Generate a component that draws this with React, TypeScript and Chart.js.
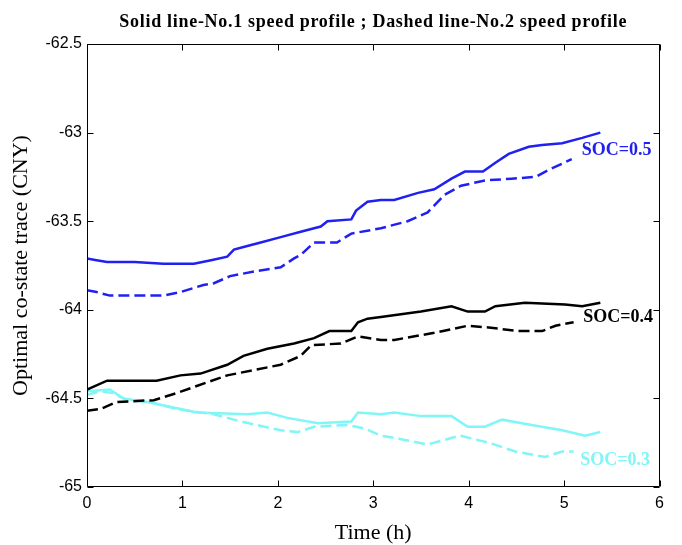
import React, { useEffect, useRef } from "react";
import { Chart, registerables } from "chart.js";

Chart.register(...registerables);

// ---- text ----
const titleText = "Solid line-No.1 speed profile ; Dashed line-No.2 speed profile";
const xTitle = "Time (h)";
const yTitle = "Optimal co-state trace (CNY)";

// ---- ticks ----
const xTicks = [0, 1, 2, 3, 4, 5, 6];
const yTicks = [-65, -64.5, -64, -63.5, -63, -62.5];

// ---- series: SOC=0.5 ----
const soc05No1T = [0, 0.1, 0.21, 0.5, 0.8, 1.12, 1.3, 1.47, 1.54, 1.68, 1.82, 2.03, 2.24, 2.38, 2.45, 2.52, 2.77, 2.82, 2.94, 3.08, 3.22, 3.47, 3.64, 3.82, 3.96, 4.15, 4.28, 4.42, 4.63, 4.77, 4.98, 5.19, 5.38];
const soc05No1V = [-63.71, -63.72, -63.73, -63.73, -63.74, -63.74, -63.72, -63.7, -63.66, -63.64, -63.62, -63.59, -63.56, -63.54, -63.53, -63.5, -63.49, -63.44, -63.39, -63.38, -63.38, -63.34, -63.32, -63.26, -63.22, -63.22, -63.17, -63.12, -63.08, -63.07, -63.06, -63.03, -63.0];
const soc05No2T = [0, 0.1, 0.24, 0.45, 0.8, 0.98, 1.22, 1.33, 1.5, 1.79, 2.03, 2.17, 2.24, 2.38, 2.62, 2.77, 3.08, 3.36, 3.57, 3.75, 3.92, 4.17, 4.45, 4.7, 4.84, 5.08];
const soc05No2V = [-63.89, -63.9, -63.92, -63.92, -63.92, -63.9, -63.86, -63.85, -63.81, -63.78, -63.76, -63.71, -63.69, -63.62, -63.62, -63.57, -63.54, -63.5, -63.45, -63.35, -63.3, -63.27, -63.26, -63.25, -63.21, -63.15];

// ---- series: SOC=0.4 ----
const soc04No1T = [0, 0.21, 0.5, 0.73, 0.98, 1.19, 1.47, 1.64, 1.89, 2.17, 2.38, 2.54, 2.77, 2.84, 2.94, 3.08, 3.5, 3.82, 3.99, 4.17, 4.28, 4.59, 5.01, 5.19, 5.38];
const soc04No1V = [-64.45, -64.4, -64.4, -64.4, -64.37, -64.36, -64.31, -64.26, -64.22, -64.19, -64.16, -64.12, -64.12, -64.07, -64.05, -64.04, -64.01, -63.98, -64.01, -64.01, -63.98, -63.96, -63.97, -63.98, -63.96];
const soc04No2T = [0, 0.14, 0.31, 0.7, 0.94, 1.15, 1.47, 1.75, 2.03, 2.24, 2.35, 2.66, 2.84, 3.08, 3.22, 3.64, 3.99, 4.21, 4.52, 4.77, 4.91, 5.1];
const soc04No2V = [-64.57, -64.56, -64.52, -64.51, -64.47, -64.43, -64.37, -64.34, -64.31, -64.26, -64.2, -64.19, -64.15, -64.17, -64.17, -64.13, -64.09, -64.1, -64.12, -64.12, -64.09, -64.07];

// ---- series: SOC=0.3 ----
const soc03No1T = [0, 0.24, 0.38, 0.63, 0.98, 1.15, 1.68, 1.89, 2.1, 2.42, 2.77, 2.84, 3.08, 3.22, 3.5, 3.82, 3.99, 4.17, 4.35, 4.66, 4.98, 5.22, 5.38];
const soc03No1V = [-64.46, -64.45, -64.5, -64.52, -64.56, -64.58, -64.59, -64.58, -64.61, -64.64, -64.63, -64.58, -64.59, -64.58, -64.6, -64.6, -64.66, -64.66, -64.62, -64.65, -64.68, -64.71, -64.69];
const soc03No2T = [0, 0.14, 0.27, 0.42, 0.66, 0.94, 1.33, 1.61, 2.03, 2.21, 2.38, 2.73, 2.91, 3.08, 3.29, 3.57, 3.91, 4.21, 4.49, 4.8, 4.98, 5.1];
const soc03No2V = [-64.48, -64.46, -64.47, -64.51, -64.52, -64.56, -64.59, -64.63, -64.68, -64.69, -64.66, -64.65, -64.67, -64.71, -64.73, -64.76, -64.71, -64.75, -64.8, -64.83, -64.8, -64.8];

// ---- in-plot series labels (data coordinates) ----
const seriesLabels = ["SOC=0.5", "SOC=0.4", "SOC=0.3"];
const labelT = [5.185, 5.2, 5.17];
const labelV = [-63.126, -64.067, -64.876];

const BLUE = "#2020f0";
const BLACK = "#000000";
const CYAN = "#80f6f6";
const labelColors = [BLUE, BLACK, CYAN];

const toPts = (t: number[], v: number[]) => t.map((x, i) => ({ x, y: v[i] }));

const framePlugin = {
  id: "frame",
  afterDatasetsDraw(chart: any) {
    const { ctx, chartArea, scales } = chart;
    const { left, right, top, bottom } = chartArea;
    const xs = scales.x;
    const ys = scales.y;
    ctx.save();
    ctx.strokeStyle = "#000";
    ctx.lineWidth = 1;
    const L = Math.round(left) + 0.5;
    const R = Math.round(right) - 0.5;
    const T = Math.round(top) + 0.5;
    const B = Math.round(bottom) - 0.5;
    ctx.beginPath();
    ctx.rect(L, T, R - L, B - T);
    const tl = 6;
    xTicks.forEach((v) => {
      const px = Math.round(xs.getPixelForValue(v)) + 0.5;
      ctx.moveTo(px, B);
      ctx.lineTo(px, B - tl);
      ctx.moveTo(px, T);
      ctx.lineTo(px, T + tl);
    });
    yTicks.forEach((v) => {
      const py = Math.round(ys.getPixelForValue(v)) + 0.5;
      ctx.moveTo(L, py);
      ctx.lineTo(L + tl, py);
      ctx.moveTo(R, py);
      ctx.lineTo(R - tl, py);
    });
    ctx.stroke();

    // series labels
    ctx.font = 'bold 18px "Liberation Serif", "Times New Roman", serif';
    ctx.textAlign = "left";
    ctx.textBaseline = "alphabetic";
    seriesLabels.forEach((s, i) => {
      ctx.fillStyle = labelColors[i];
      ctx.fillText(s, xs.getPixelForValue(labelT[i]), ys.getPixelForValue(labelV[i]));
    });

    // chart title
    ctx.fillStyle = "#000";
    ctx.textAlign = "center";
    ctx.font = 'bold 18px "Liberation Serif", "Times New Roman", serif';
    try {
      (ctx as any).letterSpacing = "0.7px";
    } catch (e) {}
    ctx.fillText(titleText, (left + right) / 2, 27);
    ctx.restore();
  },
};

export default function App() {
  const ref = useRef<HTMLCanvasElement | null>(null);
  useEffect(() => {
    if (!ref.current) return;
    Chart.defaults.font.family = '"Liberation Sans", Arial, sans-serif';
    const solid = (label: string, t: number[], v: number[], color: string) => ({
      label,
      data: toPts(t, v),
      borderColor: color,
      backgroundColor: color,
      borderWidth: 2.5,
      pointRadius: 0,
      fill: false,
      tension: 0,
    });
    const dashed = (label: string, t: number[], v: number[], color: string) => ({
      ...solid(label, t, v, color),
      borderDash: [11, 5],
    });
    const chart = new Chart(ref.current, {
      type: "line",
      data: {
        datasets: [
          solid("SOC=0.5 No.1", soc05No1T, soc05No1V, BLUE),
          dashed("SOC=0.5 No.2", soc05No2T, soc05No2V, BLUE),
          solid("SOC=0.4 No.1", soc04No1T, soc04No1V, BLACK),
          dashed("SOC=0.4 No.2", soc04No2T, soc04No2V, BLACK),
          solid("SOC=0.3 No.1", soc03No1T, soc03No1V, CYAN),
          dashed("SOC=0.3 No.2", soc03No2T, soc03No2V, CYAN),
        ] as any,
      },
      options: {
        responsive: false,
        animation: false,
        devicePixelRatio: 1,
        layout: { padding: { top: 44, right: 22.5, left: 0, bottom: 0 } },
        plugins: {
          legend: { display: false },
          tooltip: { enabled: false },
          title: { display: false },
        },
        scales: {
          x: {
            type: "linear",
            min: 0,
            max: 6,
            afterFit: (s: any) => {
              s.height = 58;
            },
            afterBuildTicks: (s: any) => {
              s.ticks = xTicks.map((v) => ({ value: v }));
            },
            grid: { display: false, drawTicks: false },
            border: { display: false },
            ticks: {
              color: "#000",
              font: { size: 16 },
              padding: 7,
              maxRotation: 0,
              autoSkip: false,
              callback: (v: any) => String(v),
            },
            title: {
              display: true,
              text: xTitle,
              color: "#000",
              font: { family: '"Liberation Serif", "Times New Roman", serif', size: 22, lineHeight: 1.1 },
              padding: { top: 0, bottom: 0 },
            },
          },
          y: {
            type: "linear",
            min: -65,
            max: -62.5,
            afterFit: (s: any) => {
              s.width = 87;
            },
            afterBuildTicks: (s: any) => {
              s.ticks = yTicks.map((v) => ({ value: v }));
            },
            grid: { display: false, drawTicks: false },
            border: { display: false },
            ticks: {
              color: "#000",
              font: { size: 16 },
              padding: 5,
              autoSkip: false,
              callback: (v: any) => String(v),
            },
            title: {
              display: true,
              text: yTitle,
              color: "#000",
              font: { family: '"Liberation Serif", "Times New Roman", serif', size: 22, lineHeight: 1.2 },
              padding: { top: 8, bottom: 0 },
            },
          },
        },
      },
      plugins: [framePlugin],
    });
    return () => chart.destroy();
  }, []);
  return (
    <div style={{ position: "absolute", left: 0, top: 0, width: 682, height: 545, background: "#fff" }}>
      <canvas ref={ref} width={682} height={545} style={{ display: "block", width: 682, height: 545 }} />
    </div>
  );
}
